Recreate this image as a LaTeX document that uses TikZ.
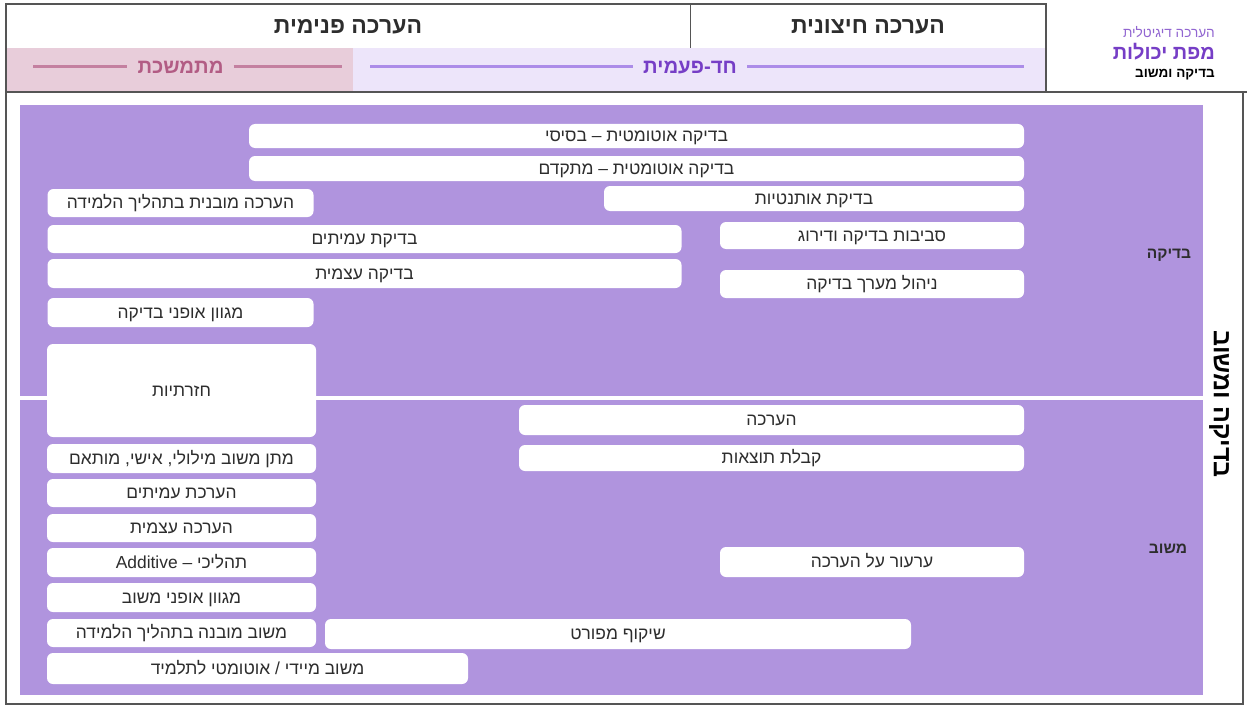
\documentclass[tikz,border=0pt]{standalone}
\usepackage{xcolor}
\usepackage{fontspec}
\usepackage{tikz}
\newfontfamily\hebfont[Script=Hebrew]{Liberation Sans}
\TeXXeTstate=1
\newcommand{\heb}[1]{\beginR #1\endR}
\definecolor{purp}{RGB}{176,148,222}
\definecolor{lavrow}{RGB}{237,229,250}
\definecolor{pinkrow}{RGB}{232,205,218}
\definecolor{pinkline}{RGB}{196,128,160}
\definecolor{pinktext}{RGB}{178,92,132}
\definecolor{purpline}{RGB}{172,140,232}
\definecolor{purptext}{RGB}{118,62,198}
\definecolor{framegray}{RGB}{85,85,85}
\definecolor{txtgray}{RGB}{45,45,45}
\tikzset{heb/.style={inner sep=0pt,text depth=0pt},
  skill/.style={heb,text height=11.5pt,fill=white,rounded corners=6pt,text=txtgray,
    font=\hebfont\fontsize{17.4}{20}\selectfont},
  hdr/.style={heb,text height=15pt,text=txtgray,font=\hebfont\bfseries\fontsize{23}{26}\selectfont},
  span/.style={heb,text height=13.4pt,inner xsep=10pt,font=\hebfont\bfseries\fontsize{20.3}{23}\selectfont},
  row/.style={heb,text height=10.2pt,text=txtgray,font=\hebfont\bfseries\fontsize{15.5}{18}\selectfont},
  frame/.style={draw=framegray,line width=1.5pt}}

\begin{document}
\begin{tikzpicture}[x=1pt,y=-1pt]
\useasboundingbox[fill=white] (0,0) rectangle (1247,706);
% header
\fill[pinkrow] (6,48) rectangle (353,92);
\fill[lavrow] (353,48) rectangle (1046,92);
\draw[frame] (6,4) rectangle (1046,92);
\draw[frame,line width=1pt] (690,4) -- (690,48);
\node[hdr] (inner) at (348,26) {\heb{הערכה פנימית}};
\node[hdr] (outer) at (868,26) {\heb{הערכה חיצונית}};
\node[span,text=pinktext] (cont) at (180.5,67) {\heb{מתמשכת}};
\node[span,text=purptext] (once) at (690,67) {\heb{חד-פעמית}};
\draw[pinkline,line width=3pt] (33,67) -- (cont.west) (cont.east) -- (342,67);
\draw[purpline,line width=3pt] (370,67) -- (once.west) (once.east) -- (1024,67);
% logo
\node[heb,text height=9pt,anchor=east,text=purptext!80,font=\hebfont\fontsize{13.6}{16}\selectfont] (digi) at (1215,33) {\heb{הערכה דיגיטלית}};
\node[heb,text height=13.2pt,anchor=east,text=purptext,font=\hebfont\bfseries\fontsize{20}{23}\selectfont] (map) at (1215,53) {\heb{מפת יכולות}};
\node[heb,text height=8.9pt,anchor=east,text=black,font=\hebfont\bfseries\fontsize{13.5}{16}\selectfont] (sub) at (1215,73) {\heb{בדיקה ומשוב}};
% main frame
\draw[frame] (6,92) rectangle (1243,704);
\draw[framegray,line width=2.5pt] (6,92) -- (1247,92);
\fill[purp] (20,105) rectangle (1203,695);
\draw[white,line width=4pt] (20,397.5) -- (1203,397.5);
\node[heb,text height=16.5pt,rotate=-90,text=black,font=\hebfont\bfseries\fontsize{25}{28}\selectfont] (side) at (1222,404) {\heb{בדיקה ומשוב}};
\node[row] (chk) at (1169,253) {\heb{בדיקה}};
\node[row] (fb) at (1168,548) {\heb{משוב}};
% checking
\node[skill,minimum width=775,minimum height=24] (auto1) at (636.5,136) {\heb{בדיקה אוטומטית – בסיסי}};
\node[skill,minimum width=775,minimum height=25] (auto2) at (636.5,168.5) {\heb{בדיקה אוטומטית – מתקדם}};
\node[skill,minimum width=420,minimum height=25] (authent) at (814,198.5) {\heb{בדיקת אותנטיות}};
\node[skill,minimum width=266,minimum height=28] (built) at (180.5,203) {\heb{הערכה מובנית בתהליך הלמידה}};
\node[skill,minimum width=634,minimum height=28] (peer) at (364.5,239) {\heb{בדיקת עמיתים}};
\node[skill,minimum width=634,minimum height=29] (self) at (364.5,273.5) {\heb{בדיקה עצמית}};
\node[skill,minimum width=304,minimum height=27] (envs) at (872,235.5) {\heb{סביבות בדיקה ודירוג}};
\node[skill,minimum width=304,minimum height=28] (manage) at (872,284) {\heb{ניהול מערך בדיקה}};
\node[skill,minimum width=266,minimum height=29] (modes) at (180.5,312.5) {\heb{מגוון אופני בדיקה}};
\node[skill,minimum width=269,minimum height=93] (repeat) at (181.5,390.5) {\heb{חזרתיות}};
% feedback
\node[skill,minimum width=505,minimum height=30] (assess) at (771.5,420) {\heb{הערכה}};
\node[skill,minimum width=505,minimum height=26] (results) at (771.5,458) {\heb{קבלת תוצאות}};
\node[skill,minimum width=269,minimum height=29] (verbal) at (181.5,458.5) {\heb{מתן משוב מילולי, אישי, מותאם}};
\node[skill,minimum width=269,minimum height=28] (peerfb) at (181.5,493) {\heb{הערכת עמיתים}};
\node[skill,minimum width=269,minimum height=28] (selffb) at (181.5,528) {\heb{הערכה עצמית}};
\node[skill,minimum width=269,minimum height=29] (additive) at (181.5,562.5) {\heb{תהליכי – \beginL Additive\endL}};
\node[skill,minimum width=269,minimum height=29] (modesfb) at (181.5,597.5) {\heb{מגוון אופני משוב}};
\node[skill,minimum width=269,minimum height=28] (builtfb) at (181.5,633) {\heb{משוב מובנה בתהליך הלמידה}};
\node[skill,minimum width=421,minimum height=31] (instant) at (257.5,668.5) {\heb{משוב מיידי / אוטומטי לתלמיד}};
\node[skill,minimum width=304,minimum height=30] (appeal) at (872,562) {\heb{ערעור על הערכה}};
\node[skill,minimum width=586,minimum height=30] (reflect) at (618,634) {\heb{שיקוף מפורט}};
\end{tikzpicture}
\end{document}
